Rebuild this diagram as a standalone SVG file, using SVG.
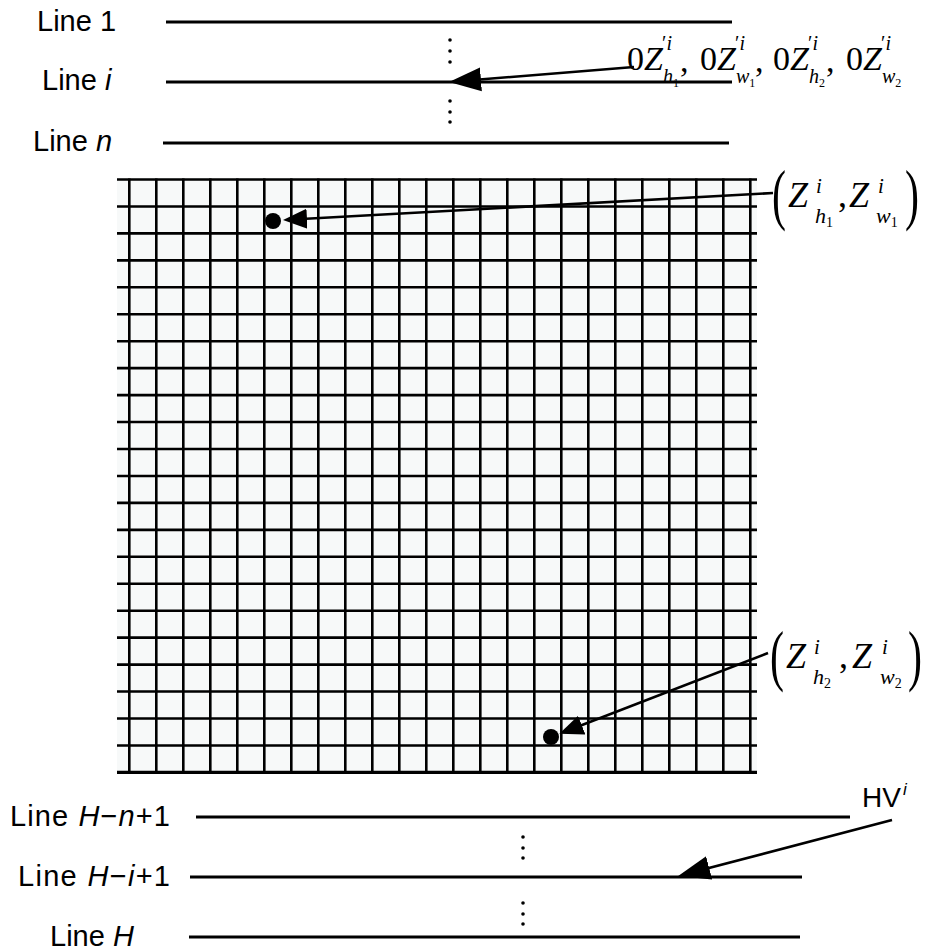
<svg xmlns="http://www.w3.org/2000/svg" width="928" height="952" viewBox="0 0 928 952">
<style>
.lbl{font-family:"Liberation Sans",Arial,sans-serif;font-size:29px;fill:#000}
.m{font-family:"Liberation Serif","Times New Roman",serif;fill:#000}
.it{font-style:italic}
.ln{stroke:#000;stroke-width:3.2;fill:none}
.conn{stroke:#000;stroke-width:2.6;fill:none}
.grid{stroke:#000;stroke-width:2.6;fill:none}
</style>
<defs>
<marker id="ahBig" markerUnits="userSpaceOnUse" markerWidth="32" markerHeight="26" viewBox="0 -13 32 26" refX="26" refY="0" orient="auto">
<path d="M0,-12 L32,0 L0,12 Z" fill="#000"/>
</marker>
<marker id="ahSmall" markerUnits="userSpaceOnUse" markerWidth="24" markerHeight="22" viewBox="0 -11 24 22" refX="19" refY="0" orient="auto">
<path d="M0,-10 L24,0 L0,10 Z" fill="#000"/>
</marker>
</defs>
<rect width="928" height="952" fill="#fff"/>

<g id="grid">
<rect x="117" y="178.5" width="640" height="595.5" fill="#f7f9f9"/>
<path class="grid" d="M129.3,178.5V774M156.3,178.5V774M183.3,178.5V774M210.3,178.5V774M237.3,178.5V774M264.3,178.5V774M291.3,178.5V774M318.3,178.5V774M345.3,178.5V774M372.3,178.5V774M399.3,178.5V774M426.3,178.5V774M453.3,178.5V774M480.3,178.5V774M507.3,178.5V774M534.3,178.5V774M561.3,178.5V774M588.3,178.5V774M615.3,178.5V774M642.3,178.5V774M669.3,178.5V774M696.3,178.5V774M723.3,178.5V774M750.3,178.5V774"/>
<path class="grid" d="M117,179.5H757M117,206.45H757M117,233.4H757M117,260.35H757M117,287.3H757M117,314.25H757M117,341.2H757M117,368.15H757M117,395.1H757M117,422.05H757M117,449H757M117,475.95H757M117,502.9H757M117,529.85H757M117,556.8H757M117,583.75H757M117,610.7H757M117,637.65H757M117,664.6H757M117,691.55H757M117,718.5H757M117,745.45H757"/>
<path d="M117,772.4H757" stroke="#000" stroke-width="3.2"/>
</g>

<g id="line1"><text class="lbl" x="37" y="31">Line 1</text><line class="ln" x1="166" y1="22" x2="732" y2="22"/></g>
<g id="linei"><text class="lbl" x="42" y="90">Line <tspan class="it">i</tspan></text><line class="ln" x1="166" y1="82" x2="732" y2="82"/></g>
<g id="linen"><text class="lbl" x="33" y="151">Line <tspan class="it">n</tspan></text><line class="ln" x1="163" y1="143" x2="729" y2="143"/></g>
<g id="lineHn1"><text class="lbl" x="10" y="826" textLength="160" lengthAdjust="spacing">Line <tspan class="it">H</tspan>−<tspan class="it">n</tspan>+1</text><line class="ln" x1="196" y1="817" x2="850" y2="817"/></g>
<g id="lineHi1"><text class="lbl" x="18" y="886" textLength="152" lengthAdjust="spacing">Line <tspan class="it">H</tspan>−<tspan class="it">i</tspan>+1</text><line class="ln" x1="190" y1="877" x2="802" y2="877"/></g>
<g id="lineH"><text class="lbl" x="50" y="946">Line <tspan class="it">H</tspan></text><line class="ln" x1="189" y1="937" x2="800" y2="937"/></g>

<g id="vdots" fill="#000">
<circle cx="450" cy="40" r="1.8"/><circle cx="450" cy="51" r="1.8"/><circle cx="450" cy="62" r="1.8"/>
<circle cx="450" cy="101" r="1.8"/><circle cx="450" cy="112" r="1.8"/><circle cx="450" cy="122" r="1.8"/>
<circle cx="523" cy="837" r="1.8"/><circle cx="523" cy="848" r="1.8"/><circle cx="523" cy="858" r="1.8"/>
<circle cx="523" cy="903" r="1.8"/><circle cx="523" cy="914" r="1.8"/><circle cx="523" cy="924" r="1.8"/>
</g>

<g id="dots" fill="#000">
<circle cx="273" cy="221" r="8"/>
<circle cx="551" cy="737" r="8"/>
</g>

<g id="connectors">
<line class="conn" x1="634" y1="67" x2="455" y2="81.5" marker-end="url(#ahBig)"/>
<line class="conn" x1="773" y1="193" x2="288" y2="219.7" marker-end="url(#ahSmall)"/>
<line class="conn" x1="768" y1="653" x2="564" y2="732" marker-end="url(#ahSmall)"/>
<line class="conn" x1="892" y1="820" x2="684" y2="874.5" marker-end="url(#ahBig)"/>
</g>

<g id="labelTop" class="m">
<text x="627" y="70" font-size="34">0<tspan class="it">Z</tspan></text>
<text x="662" y="50" font-size="20">′<tspan class="it">i</tspan></text>
<text x="663" y="83" font-size="20" class="it">h<tspan font-size="12" dy="4" font-style="normal">1</tspan></text>
<text x="680" y="72" font-size="34">,</text>
<text x="700" y="70" font-size="34">0<tspan class="it">Z</tspan></text>
<text x="735" y="50" font-size="20">′<tspan class="it">i</tspan></text>
<text x="736" y="83" font-size="20" class="it">w<tspan font-size="12" dy="4" font-style="normal">1</tspan></text>
<text x="755" y="72" font-size="34">,</text>
<text x="773" y="70" font-size="34">0<tspan class="it">Z</tspan></text>
<text x="808" y="50" font-size="20">′<tspan class="it">i</tspan></text>
<text x="809" y="83" font-size="20" class="it">h<tspan font-size="12" dy="4" font-style="normal">2</tspan></text>
<text x="826" y="72" font-size="34">,</text>
<text x="846" y="70" font-size="34">0<tspan class="it">Z</tspan></text>
<text x="881" y="50" font-size="20">′<tspan class="it">i</tspan></text>
<text x="882" y="83" font-size="20" class="it">w<tspan font-size="12" dy="4" font-style="normal">2</tspan></text>
</g>

<g id="labelZ1" class="m">
<text transform="translate(772,217) scale(1,1.6)" font-size="42">(</text>
<text x="788" y="207" font-size="36" class="it">Z</text>
<text x="816" y="193" font-size="21" class="it">i</text>
<text x="815" y="223" font-size="22" class="it">h<tspan font-size="14" dy="4" font-style="normal">1</tspan></text>
<text x="838" y="207" font-size="36">,</text>
<text x="849" y="207" font-size="36" class="it">Z</text>
<text x="878" y="193" font-size="21" class="it">i</text>
<text x="876" y="223" font-size="22" class="it">w<tspan font-size="14" dy="4" font-style="normal">1</tspan></text>
<text transform="translate(905,217) scale(1,1.6)" font-size="42">)</text>
</g>

<g id="labelZ2" class="m">
<text transform="translate(770,678) scale(1,1.6)" font-size="42">(</text>
<text x="786" y="668" font-size="36" class="it">Z</text>
<text x="814" y="654" font-size="21" class="it">i</text>
<text x="813" y="684" font-size="22" class="it">h<tspan font-size="14" dy="4" font-style="normal">2</tspan></text>
<text x="839" y="668" font-size="36">,</text>
<text x="852" y="668" font-size="36" class="it">Z</text>
<text x="882" y="654" font-size="21" class="it">i</text>
<text x="880" y="684" font-size="22" class="it">w<tspan font-size="14" dy="4" font-style="normal">2</tspan></text>
<text transform="translate(908,678) scale(1,1.6)" font-size="42">)</text>
</g>

<g id="labelHV">
<text class="lbl" x="862" y="807" style="font-size:28px">HV</text>
<text class="lbl it" x="903" y="795" style="font-size:17px">i</text>
</g>
</svg>
